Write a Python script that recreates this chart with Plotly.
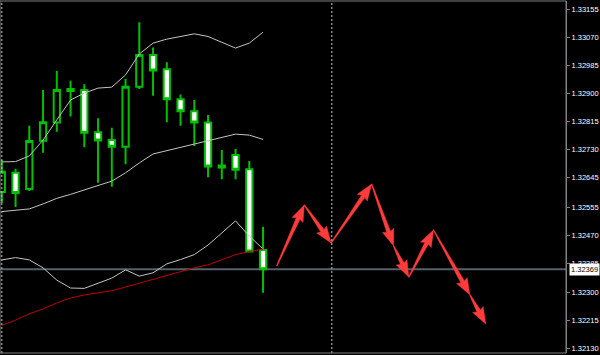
import math
import plotly.graph_objects as go

# ---- data ----
bars = list(range(20))
opens  = [1.32602, 1.32660, 1.32611, 1.32757, 1.32812, 1.32913, 1.32910, 1.32783, 1.32759, 1.32739,
          1.32920, 1.33016, 1.32973, 1.32882, 1.32846, 1.32812, 1.32682, 1.32714, 1.32671, 1.32427]
highs  = [1.32699, 1.32672, 1.32802, 1.32910, 1.32968, 1.32938, 1.32928, 1.32825, 1.32796, 1.32944,
          1.33115, 1.33039, 1.32994, 1.32897, 1.32880, 1.32835, 1.32729, 1.32732, 1.32696, 1.32497]
lows   = [1.32569, 1.32557, 1.32605, 1.32721, 1.32784, 1.32830, 1.32737, 1.32630, 1.32618, 1.32686,
          1.32913, 1.32893, 1.32813, 1.32802, 1.32741, 1.32647, 1.32641, 1.32641, 1.32419, 1.32298]
closes = [1.32663, 1.32599, 1.32756, 1.32813, 1.32910, 1.32907, 1.32781, 1.32758, 1.32739, 1.32920,
          1.33016, 1.32969, 1.32882, 1.32846, 1.32812, 1.32679, 1.32676, 1.32669, 1.32422, 1.32369]

bb_upper  = [1.32693, 1.32694, 1.32711, 1.32759, 1.32820, 1.32880, 1.32901, 1.32916, 1.32919, 1.32956,
             1.33019, 1.33052, 1.33064, 1.33073, 1.33080, 1.33072, 1.33055, 1.33037, 1.33052, 1.33085]
bb_middle = [1.32543, 1.32548, 1.32551, 1.32566, 1.32583, 1.32595, 1.32608, 1.32623, 1.32635, 1.32660,
             1.32690, 1.32717, 1.32727, 1.32738, 1.32747, 1.32756, 1.32767, 1.32777, 1.32774, 1.32761]
bb_lower  = [1.32397, 1.32404, 1.32397, 1.32373, 1.32336, 1.32312, 1.32311, 1.32326, 1.32342, 1.32367,
             1.32348, 1.32358, 1.32385, 1.32398, 1.32413, 1.32442, 1.32478, 1.32515, 1.32469, 1.32430]
ma_red    = [1.32199, 1.32215, 1.32234, 1.32249, 1.32267, 1.32282, 1.32291, 1.32297, 1.32304, 1.32315,
             1.32327, 1.32338, 1.32350, 1.32362, 1.32373, 1.32382, 1.32397, 1.32413, 1.32422, 1.32430]

tick_labels = ["1.33155", "1.33070", "1.32985", "1.32900", "1.32815", "1.32730", "1.32645",
               "1.32555", "1.32470", "1.32385", "1.32300", "1.32215", "1.32130"]

last_price = 1.32369
separator_bars = [0, 24]

# forecast path drawn as arrows (bar position, price)
arrow_bars   = [20.0, 22.0, 23.95, 26.9, 28.5, 29.6, 31.4, 34.05, 35.2]
arrow_prices = [1.32379, 1.32563, 1.32448, 1.32626, 1.32439, 1.32345, 1.32487, 1.32291, 1.32203]

# ---- layout geometry ----
W, H = 600, 355
M_L, M_R, M_T, M_B = 0, 34, 1, 2
PW, PH = W - M_L - M_R, H - M_T - M_B
X_RANGE = [-0.131, 41.033]
Y_RANGE = [1.321157, 1.331792]

def to_px(x):
    return (x - X_RANGE[0]) / (X_RANGE[1] - X_RANGE[0]) * PW

def to_py(p):
    return (Y_RANGE[1] - p) / (Y_RANGE[1] - Y_RANGE[0]) * PH

def from_px(px):
    return X_RANGE[0] + px / PW * (X_RANGE[1] - X_RANGE[0])

def from_py(py):
    return Y_RANGE[1] - py / PH * (Y_RANGE[1] - Y_RANGE[0])

GREEN = "#00c000"
fig = go.Figure()

fig.add_trace(go.Candlestick(
    x=bars, open=opens, high=highs, low=lows, close=closes,
    increasing=dict(line=dict(color=GREEN, width=2), fillcolor="black"),
    decreasing=dict(line=dict(color=GREEN, width=2), fillcolor="white"),
    whiskerwidth=0, hoverinfo="skip", showlegend=False,
))

for series in (bb_upper, bb_middle, bb_lower):
    fig.add_trace(go.Scatter(x=bars, y=series, mode="lines",
                             line=dict(color="#c4c4c4", width=1),
                             hoverinfo="skip", showlegend=False))
fig.add_trace(go.Scatter(x=bars, y=ma_red, mode="lines",
                         line=dict(color="#c00000", width=1),
                         hoverinfo="skip", showlegend=False))

# arrows as tapered polygons built in pixel space
HEAD_L, HEAD_W, SHAFT_W, TAIL_W = 15.0, 6.0, 2.0, 0.4
ax, ay = [], []
for k in range(len(arrow_bars) - 1):
    tx, ty = to_px(arrow_bars[k]), to_py(arrow_prices[k])
    hx, hy = to_px(arrow_bars[k + 1]), to_py(arrow_prices[k + 1])
    dx, dy = hx - tx, hy - ty
    L = math.hypot(dx, dy)
    ux, uy = dx / L, dy / L
    nx, ny = -uy, ux
    bx, by = hx - ux * HEAD_L, hy - uy * HEAD_L
    pts = [
        (tx + nx * TAIL_W, ty + ny * TAIL_W),
        (bx + nx * SHAFT_W, by + ny * SHAFT_W),
        (bx + nx * HEAD_W - ux * 1.5, by + ny * HEAD_W - uy * 1.5),
        (hx, hy),
        (bx - nx * HEAD_W - ux * 1.5, by - ny * HEAD_W - uy * 1.5),
        (bx - nx * SHAFT_W, by - ny * SHAFT_W),
        (tx - nx * TAIL_W, ty - ny * TAIL_W),
        (tx + nx * TAIL_W, ty + ny * TAIL_W),
    ]
    for px_, py_ in pts:
        ax.append(from_px(px_))
        ay.append(from_py(py_))
    ax.append(None)
    ay.append(None)

fig.add_trace(go.Scatter(x=ax, y=ay, mode="lines", fill="toself",
                         fillcolor="#ff3b3b", line=dict(color="#ff3b3b", width=0.5),
                         hoverinfo="skip", showlegend=False))

shapes = []
for sb in separator_bars:
    shapes.append(dict(type="line", xref="x", yref="paper", x0=sb, x1=sb, y0=0, y1=1,
                       line=dict(color="#c8c8c8", width=1, dash="2px,2px"), layer="above"))
shapes.append(dict(type="line", xref="paper", yref="y", x0=0, x1=1, y0=last_price, y1=last_price,
                   line=dict(color="#56616c", width=2), layer="below"))
shapes.append(dict(type="rect", xref="paper", yref="paper", x0=0, x1=1, y0=0, y1=1,
                   line=dict(color="#808080", width=1), layer="above"))

tick_vals = [float(t) for t in tick_labels]

fig.update_layout(
    width=W, height=H,
    margin=dict(l=M_L, r=M_R, t=M_T, b=M_B),
    paper_bgcolor="black", plot_bgcolor="black",
    showlegend=False,
    boxgap=0.35,
    shapes=shapes,
    xaxis=dict(range=X_RANGE, visible=False, rangeslider=dict(visible=False),
               showgrid=False, zeroline=False, fixedrange=True),
    yaxis=dict(range=Y_RANGE, side="right", tickvals=tick_vals, ticktext=tick_labels,
               ticks="outside", ticklen=3, tickcolor="#808080", tickwidth=1,
               showline=True, linecolor="#808080", linewidth=1,
               showgrid=False, zeroline=False,
               tickfont=dict(family="Liberation Sans", size=7.5, color="white")),
    annotations=[dict(xref="paper", yref="y", x=1, y=last_price, xanchor="left", yanchor="middle",
                      xshift=3, text=f"{last_price:.5f}", showarrow=False,
                      font=dict(family="Liberation Sans", size=7.5, color="black"),
                      bgcolor="white", borderpad=1)],
)

fig.write_html("out.html")
